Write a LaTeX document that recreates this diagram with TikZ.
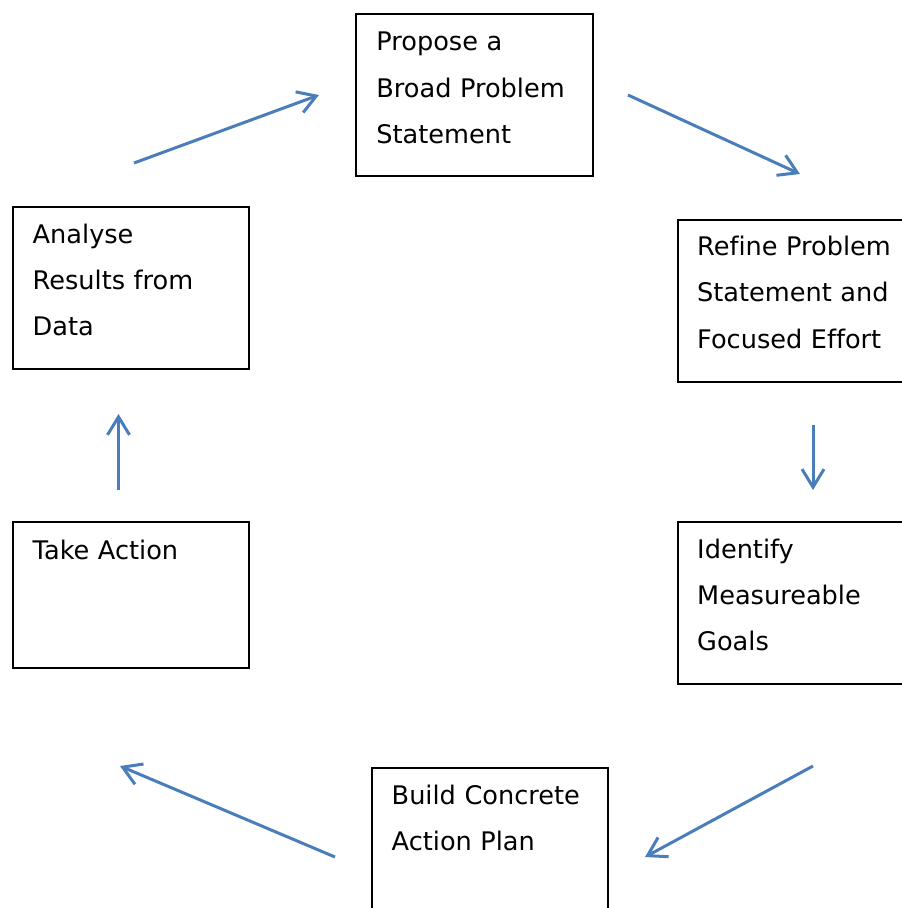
\documentclass[tikz,border=0pt]{standalone}
\usepackage{fontspec}
\setmainfont[Ligatures=NoCommon]{DejaVu Sans}
\usetikzlibrary{arrows.meta,calc}
\definecolor{flow}{HTML}{4A7EBB}
\tikzset{
  stage/.style={draw=black, line width=2.1pt, rectangle, anchor=north west, inner sep=0pt},
  caption/.style={anchor=base west, inner sep=0pt, text width=240pt, align=left,
    font=\fontsize{25.6}{46.3}\selectfont},
  flowarrow/.style={draw=flow, line width=3pt, -{Straight Barb[length=18pt,width=22pt]}}
}
\begin{document}
\begin{tikzpicture}[x=1pt,y=-1pt]
  \useasboundingbox (0,0) rectangle (902,908);
  \clip (0,0) rectangle (902,908);

  % the six stages of the cycle
  \node[stage, minimum width=237pt, minimum height=162pt] (propose) at (355,13) {};
  \node[stage, minimum width=260pt, minimum height=162pt] (refine)  at (677,219) {};
  \node[stage, minimum width=260pt, minimum height=162pt] (goals)   at (677,521) {};
  \node[stage, minimum width=236pt, minimum height=200pt] (plan)    at (371,767) {};
  \node[stage, minimum width=236pt, minimum height=146pt] (act)     at (12,521) {};
  \node[stage, minimum width=236pt, minimum height=162pt] (analyse) at (12,206) {};

  % stage captions
  \node[caption] (propose-t) at ($(propose.north west)+(21.2,37.7)$) {Propose a\\Broad Problem\\Statement};
  \node[caption] (refine-t)  at ($(refine.north west)+(20,36.5)$) {Refine Problem\\Statement and\\Focused Effort};
  \node[caption] (goals-t)   at ($(goals.north west)+(20,37)$) {Identify\\Measureable\\Goals};
  \node[caption] (plan-t)    at ($(plan.north west)+(20.5,37)$) {Build Concrete\\Action Plan};
  \node[caption] (act-t)     at ($(act.north west)+(20.5,38)$) {Take Action};
  \node[caption] (analyse-t) at ($(analyse.north west)+(20.5,37)$) {Analyse\\Results from\\Data};

  % arrow end points
  \coordinate (a1s) at (134,163);  \coordinate (a1e) at (319,95);
  \coordinate (a2s) at (628,95);   \coordinate (a2e) at (800,174);
  \coordinate (a3s) at (813,425);  \coordinate (a3e) at (813,490);
  \coordinate (a4s) at (813,766);  \coordinate (a4e) at (645,857);
  \coordinate (a5s) at (335,857);  \coordinate (a5e) at (120,766);
  \coordinate (a6s) at (118.5,490); \coordinate (a6e) at (118.5,414);

  % flow between the stages
  \draw[flowarrow] (a1s) -- (a1e);
  \draw[flowarrow] (a2s) -- (a2e);
  \draw[flowarrow] (a3s) -- (a3e);
  \draw[flowarrow] (a4s) -- (a4e);
  \draw[flowarrow] (a5s) -- (a5e);
  \draw[flowarrow] (a6s) -- (a6e);
\end{tikzpicture}
\end{document}
